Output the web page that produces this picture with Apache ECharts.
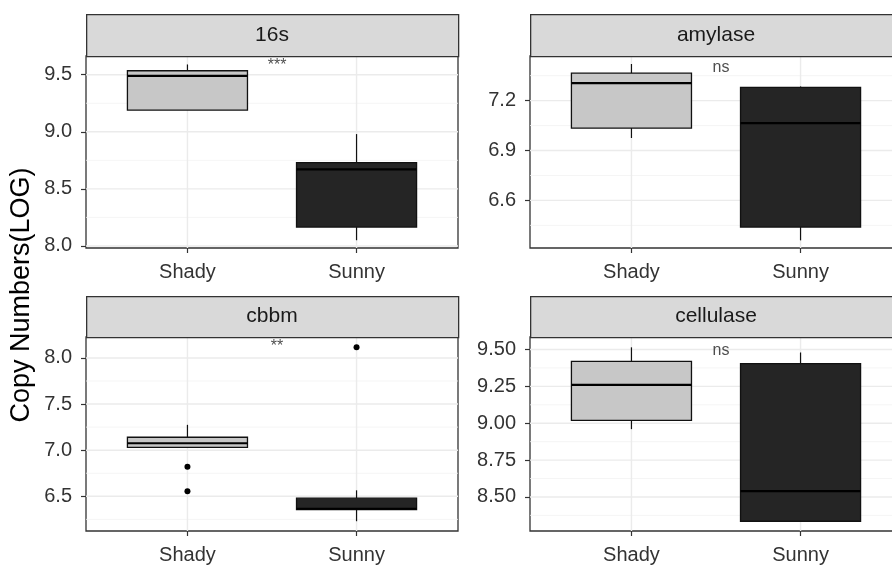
<!DOCTYPE html>
<html>
<head>
<meta charset="utf-8">
<script src="https://cdn.jsdelivr.net/npm/echarts@6/dist/echarts.min.js"></script>
<style>
  html, body { margin: 0; padding: 0; background: #fff; }
  #chart { width: 892px; height: 565px; }
</style>
</head>
<body>
<div id="chart"></div>
<script>
var groups = ['Shady', 'Sunny'];
var panelNames = ['16s', 'amylase', 'cbbm', 'cellulase'];
// [min, Q1, median, Q3, max] for Shady, Sunny
var box16s = [[9.19, 9.19, 9.49, 9.535, 9.59], [8.05, 8.165, 8.67, 8.73, 8.98]];
var boxAmylase = [[6.975, 7.035, 7.305, 7.365, 7.42], [6.36, 6.44, 7.065, 7.28, 7.285]];
var boxCbbm = [[7.03, 7.03, 7.075, 7.14, 7.275], [6.23, 6.355, 6.365, 6.48, 6.565]];
var boxCellulase = [[8.96, 9.02, 9.26, 9.42, 9.515], [8.335, 8.335, 8.54, 9.405, 9.48]];
// outliers: [group position, value]
var out16s = [];
var outAmylase = [];
var outCbbm = [[1, 6.82], [1, 6.555], [2, 8.115]];
var outCellulase = [];
var signif = ['***', 'ns', '**', 'ns'];
var signifY = [9.58, 7.40, 8.12, 9.49];
var ticks16s = [8.0, 8.5, 9.0, 9.5];
var ticksAmylase = [6.6, 6.9, 7.2];
var ticksCbbm = [6.5, 7.0, 7.5, 8.0];
var ticksCellulase = [8.50, 8.75, 9.00, 9.25, 9.50];
var yRanges = [[7.982, 9.664], [6.314, 7.468], [6.124, 8.227], [8.269, 9.585]];

var boxes = [box16s, boxAmylase, boxCbbm, boxCellulase];
var outliers = [out16s, outAmylase, outCbbm, outCellulase];
var ticks = [ticks16s, ticksAmylase, ticksCbbm, ticksCellulase];
var decimals = [1, 1, 1, 2];

// panel layout (pixels)
var PW = 372;
var layout = [
  { left: 86, top: 56, height: 192, stripTop: 14 },
  { left: 530, top: 56, height: 192, stripTop: 14 },
  { left: 86, top: 337, height: 194, stripTop: 296 },
  { left: 530, top: 337, height: 194, stripTop: 296 }
];
var FONT = 'Liberation Sans, Arial, sans-serif';
var boxHalf = 0.355;

var chart = echarts.init(document.getElementById('chart'));

function renderBox(params, api) {
  var x = api.value(0);
  var lo = api.coord([x, api.value(1)]);
  var q1 = api.coord([x, api.value(2)]);
  var md = api.coord([x, api.value(3)]);
  var q3 = api.coord([x, api.value(4)]);
  var hi = api.coord([x, api.value(5)]);
  var half = api.size([boxHalf, 0])[0];
  var fill = x === 1 ? '#c7c7c7' : '#252525';
  var ink = '#111';
  return {
    type: 'group',
    children: [
      { type: 'line', shape: { x1: lo[0], y1: lo[1], x2: q1[0], y2: q1[1] }, style: { stroke: ink, lineWidth: 1.2 } },
      { type: 'line', shape: { x1: q3[0], y1: q3[1], x2: hi[0], y2: hi[1] }, style: { stroke: ink, lineWidth: 1.2 } },
      { type: 'rect', shape: { x: q3[0] - half, y: q3[1], width: 2 * half, height: q1[1] - q3[1] },
        style: { fill: fill, stroke: ink, lineWidth: 1.3 } },
      { type: 'line', shape: { x1: md[0] - half, y1: md[1], x2: md[0] + half, y2: md[1] }, style: { stroke: '#000', lineWidth: 2.2 } }
    ]
  };
}

// grid line item: [isVertical, value, isMajor]
function renderGridLine(params, api) {
  var cs = params.coordSys;
  var v = api.value(1);
  var major = api.value(2) === 1;
  var shape;
  if (api.value(0) === 1) {
    var px = api.coord([v, 0])[0];
    shape = { x1: px, y1: cs.y, x2: px, y2: cs.y + cs.height };
  } else {
    var py = api.coord([1, v])[1];
    shape = { x1: cs.x, y1: py, x2: cs.x + cs.width, y2: py };
  }
  return {
    type: 'line', shape: shape,
    style: { stroke: major ? '#ebebeb' : '#f3f3f3', lineWidth: major ? 1.4 : 0.8 }
  };
}

var grids = [], xAxes = [], yAxes = [], series = [], graphics = [];

for (var i = 0; i < 4; i++) {
  var L = layout[i];
  grids.push({
    left: L.left, top: L.top, width: PW, height: L.height,
    outerBoundsMode: 'none', containLabel: false,
    show: true, backgroundColor: '#fff', borderColor: '#333', borderWidth: 1.3, z: 0
  });
  xAxes.push({
    type: 'value', gridIndex: i, min: 0.4, max: 2.6,
    axisLine: { show: false },
    splitLine: { show: false },
    axisTick: { show: true, customValues: [1, 2], length: 5, lineStyle: { color: '#333', width: 1.2 } },
    axisLabel: {
      customValues: [1, 2], margin: 14, color: '#333', fontSize: 20, fontFamily: FONT,
      formatter: function (v) { return groups[Math.round(v) - 1]; }
    }
  });
  (function (d) {
    yAxes.push({
      type: 'value', gridIndex: i, min: yRanges[i][0], max: yRanges[i][1],
      axisLine: { show: false },
      splitLine: { show: false },
      axisTick: { show: true, customValues: ticks[i], length: 5, lineStyle: { color: '#333', width: 1.2 } },
      axisLabel: {
        customValues: ticks[i], margin: 14, color: '#333', fontSize: 20, fontFamily: FONT,
        formatter: function (v) { return v.toFixed(d); }
      }
    });
  })(decimals[i]);

  // grid lines: major + minor on y, major on x
  var gl = [];
  var t = ticks[i];
  var step = t[1] - t[0];
  for (var m = t[0] - step / 2; m < yRanges[i][1]; m += step) {
    if (m > yRanges[i][0]) gl.push([0, m, 0]);
  }
  for (var k = 0; k < t.length; k++) gl.push([0, t[k], 1]);
  gl.push([1, 1, 1], [1, 2, 1]);

  series.push({
    type: 'custom', xAxisIndex: i, yAxisIndex: i, z: 1, silent: true,
    renderItem: renderGridLine, encode: { x: -1, y: -1 }, data: gl
  });
  series.push({
    type: 'custom', xAxisIndex: i, yAxisIndex: i, z: 3, silent: true,
    renderItem: renderBox,
    encode: { x: 0, y: [1, 2, 3, 4, 5] },
    data: boxes[i].map(function (b, j) { return [j + 1].concat(b); })
  });
  series.push({
    type: 'scatter', xAxisIndex: i, yAxisIndex: i, z: 4, silent: true,
    symbolSize: 6, itemStyle: { color: '#000', opacity: 1 },
    data: outliers[i]
  });
  series.push({
    type: 'scatter', xAxisIndex: i, yAxisIndex: i, z: 4, silent: true,
    symbolSize: 0,
    label: { show: true, position: 'inside', formatter: signif[i], color: '#222', fontSize: 16, fontFamily: FONT },
    data: [[1.53, signifY[i]]]
  });

  // facet strip
  graphics.push({
    type: 'rect', left: L.left, top: L.stripTop,
    shape: { width: PW, height: L.top - L.stripTop },
    style: { fill: '#d9d9d9', stroke: '#333', lineWidth: 1.3 }, z: 10
  });
  graphics.push({
    type: 'text', x: L.left + PW / 2, y: (L.stripTop + L.top) / 2,
    style: { text: panelNames[i], font: '21px ' + FONT, fill: '#1a1a1a', textAlign: 'center', textVerticalAlign: 'middle' },
    z: 11
  });
}

graphics.push({
  type: 'text', x: 22, y: 295, rotation: Math.PI / 2,
  style: { text: 'Copy Numbers(LOG)', font: '27px ' + FONT, fill: '#000', textAlign: 'center', textVerticalAlign: 'middle' },
  z: 11
});

chart.setOption({
  backgroundColor: '#fff',
  animation: false,
  grid: grids,
  xAxis: xAxes,
  yAxis: yAxes,
  series: series,
  graphic: graphics
});
</script>
</body>
</html>
